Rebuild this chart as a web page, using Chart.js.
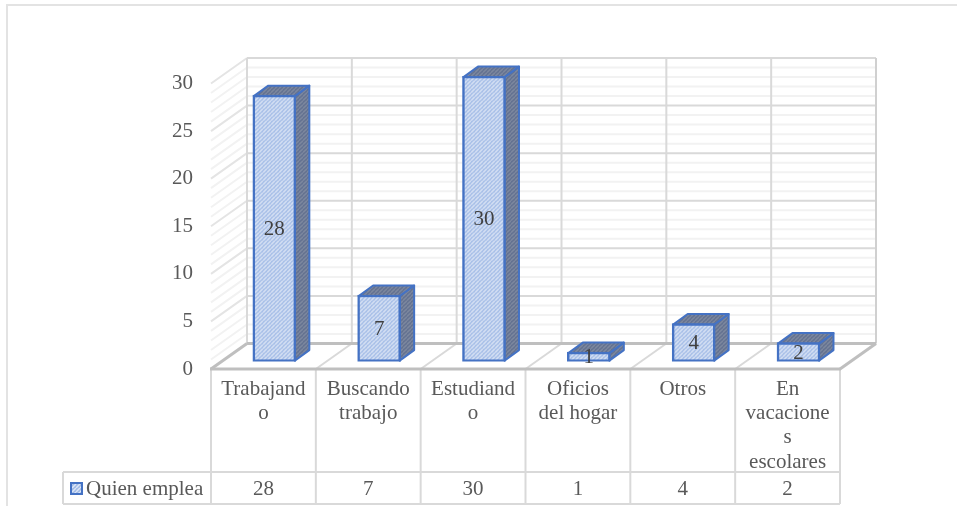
<!DOCTYPE html>
<html><head><meta charset="utf-8">
<style>html,body{margin:0;padding:0;background:#fff}canvas{display:block}</style>
<script src="https://cdn.jsdelivr.net/npm/chart.js@4"></script>
</head><body><canvas id="c" width="957" height="506"></canvas>
<script>
const categories = [["Trabajand","o"],["Buscando","trabajo"],["Estudiand","o"],["Oficios","del hogar"],["Otros"],["En","vacacione","s","escolares"]];
const values = [28,7,30,1,4,2];
const seriesName = "Quien emplea";
const yTicks = {min:0,max:30,step:5};

const FONT = '21px "Liberation Serif"';
const TXT = '#595959';
const WALL = {dx:36,dy:-25.5};
const BAR = {dx:10.9,dy:-7.4,depthX:14.5,depthY:-10.5};
const TABLE = {mid:472,bottom:504,left:63};

function hatch(base,stripe,period,w){
  const c=document.createElement('canvas');c.width=c.height=period;
  const g=c.getContext('2d');g.fillStyle=base;g.fillRect(0,0,period,period);
  g.strokeStyle=stripe;g.lineWidth=w;
  [-period,0,period].forEach(o=>{g.beginPath();g.moveTo(o,period);g.lineTo(o+period,0);g.stroke();});
  return g.canvas;
}
const ctx0=document.getElementById('c').getContext('2d');
const frontP=ctx0.createPattern(hatch('#a0bae6','#dde6f6',4,1.5),'repeat');
const darkP=ctx0.createPattern(hatch('#5f6e8e','#858fa3',4,1.3),'repeat');

function line(c,x1,y1,x2,y2,col,w){c.strokeStyle=col;c.lineWidth=w;c.beginPath();c.moveTo(x1,y1);c.lineTo(x2,y2);c.stroke();}

const scene={
  id:'scene',
  beforeDatasetsDraw(chart){
    const c=chart.ctx,{y}=chart.scales,a=chart.chartArea;
    c.save();
    line(c,7,5,7,506,'#e3e3e3',2);line(c,6,5,957,5,'#e3e3e3',2);
    const bl=a.left+WALL.dx,br=a.right+WALL.dx;
    for(let v=yTicks.min;v<=yTicks.max;v++){
      if(v%yTicks.step===0)continue;
      const p=y.getPixelForValue(v);
      line(c,a.left,p,bl,p+WALL.dy,'#f2f2f2',2);
      line(c,bl,p+WALL.dy,br,p+WALL.dy,'#f2f2f2',2);
    }
    for(let v=yTicks.min+yTicks.step;v<=yTicks.max;v+=yTicks.step){
      const p=y.getPixelForValue(v);
      line(c,a.left,p,bl,p+WALL.dy,'#e4e4e4',2);
      line(c,bl,p+WALL.dy,br,p+WALL.dy,'#d9d9d9',2);
    }
    const bw=(a.right-a.left)/categories.length;
    const topY=y.getPixelForValue(yTicks.max),botY=y.getPixelForValue(0);
    for(let i=0;i<=categories.length;i++){
      const fx=a.left+i*bw;
      line(c,fx+WALL.dx,topY+WALL.dy,fx+WALL.dx,botY+WALL.dy,i===categories.length?'#d0d0d0':'#d9d9d9',2);
      line(c,fx,botY,fx+WALL.dx,botY+WALL.dy,(i===0||i===categories.length)?'#bfbfbf':'#d9d9d9',i===0||i===categories.length?3:2);
    }
    line(c,bl,botY+WALL.dy,br,botY+WALL.dy,'#bfbfbf',3);
    const G='#d9d9d9';
    for(let i=0;i<=categories.length;i++){const fx=a.left+i*bw;line(c,fx,botY,fx,TABLE.bottom,G,2);}
    line(c,TABLE.left,TABLE.mid,a.right,TABLE.mid,G,2);
    line(c,TABLE.left,TABLE.bottom,a.right,TABLE.bottom,G,2);
    line(c,TABLE.left,TABLE.mid,TABLE.left,TABLE.bottom,G,2);
    line(c,a.left-1,botY,a.right+1,botY,'#bfbfbf',3);
    c.translate(BAR.dx,BAR.dy);
    chart.getDatasetMeta(0).data.forEach(el=>{
      const p=el.getProps(['x','y','base','width'],true);
      const l=p.x-p.width/2+1,r=p.x+p.width/2-1,t=p.y+1,b=p.base-1;
      c.lineJoin='round';c.strokeStyle='#4472C4';c.lineWidth=2;c.fillStyle=darkP;
      c.beginPath();c.moveTo(r,t);c.lineTo(r+BAR.depthX,t+BAR.depthY);c.lineTo(r+BAR.depthX,b+BAR.depthY);c.lineTo(r,b);c.closePath();c.fill();c.stroke();
      c.beginPath();c.moveTo(l,t);c.lineTo(l+BAR.depthX,t+BAR.depthY);c.lineTo(r+BAR.depthX,t+BAR.depthY);c.lineTo(r,t);c.closePath();c.fill();c.stroke();
    });
  },
  afterDatasetsDraw(chart){
    const c=chart.ctx;
    c.font=FONT;c.textAlign='center';c.textBaseline='middle';
    c.fillStyle='#404040';
    chart.getDatasetMeta(0).data.forEach((el,i)=>{
      const p=el.getProps(['x','y','base'],true);
      c.fillText(String(values[i]),p.x,(p.y+p.base)/2+1);
    });
    c.restore();
    c.save();
    c.font=FONT;c.textBaseline='middle';c.fillStyle=TXT;c.textAlign='center';
    const ry=(TABLE.mid+TABLE.bottom)/2+1;
    chart.getDatasetMeta(0).data.forEach((el,i)=>c.fillText(String(values[i]),el.x,ry));
    c.textAlign='left';c.fillText(seriesName,86,ry);
    c.fillStyle=frontP;c.strokeStyle='#4472C4';c.lineWidth=2;
    c.fillRect(71,483,11,11);c.strokeRect(71,483,11,11);
    c.restore();
  }
};

new Chart(document.getElementById('c'),{
  type:'bar',
  data:{labels:categories,datasets:[{label:seriesName,data:values,backgroundColor:frontP,borderColor:'#4472C4',borderWidth:2.5,borderSkipped:false,barThickness:43}]},
  options:{
    responsive:false,animation:false,
    layout:{padding:{top:83.5,right:117,left:0,bottom:0}},
    plugins:{legend:{display:false},tooltip:{enabled:false},title:{display:false}},
    scales:{
      x:{grid:{display:false},border:{display:false},
        afterFit(s){s.height=137;},
        ticks:{autoSkip:false,maxRotation:0,minRotation:0,padding:0,color:TXT,font:{family:'Liberation Serif',size:21,lineHeight:1.16}}},
      y:{min:yTicks.min,max:yTicks.max,grid:{display:false},border:{display:false},
        afterFit(s){s.width=211;},
        ticks:{stepSize:yTicks.step,padding:10,color:TXT,font:{family:'Liberation Serif',size:21}}}
    }
  },
  plugins:[scene]
});
</script></body></html>
